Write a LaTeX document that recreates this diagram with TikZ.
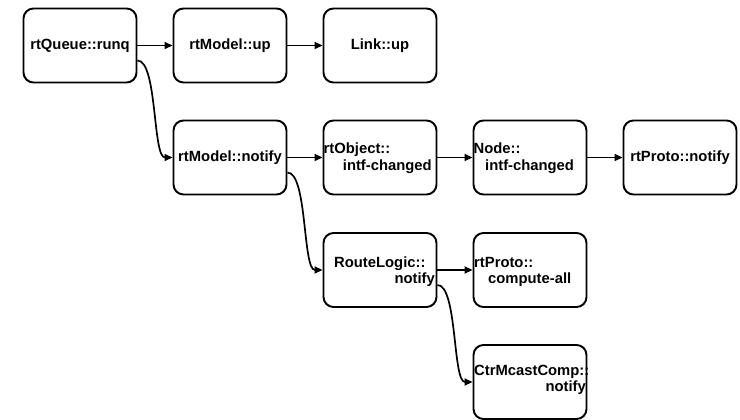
\documentclass[tikz,border=0pt]{standalone}
\usepackage{fontspec}
\setmainfont{Liberation Sans}
\usetikzlibrary{arrows.meta}
\begin{document}
\begin{tikzpicture}[x=1pt,y=-1pt,
  box/.style={draw, line width=1.9pt, rounded corners=10pt, minimum width=113pt, minimum height=74pt, inner sep=0pt},
  lbl/.style={inner sep=0pt, font=\fontsize{14.8}{17}\selectfont\bfseries},
  arr/.style={line width=1.7pt, -{Triangle[length=8pt,width=7pt]}}]
\useasboundingbox (0,0) rectangle (740,420);
% boxes
\node[box,lbl] (q)   at (80,45.5)   {rtQueue::runq};
\node[box,lbl] (up)  at (230,45.5)  {rtModel::up};
\node[box,lbl] (lk)  at (380,45.5)  {Link::up};
\node[box,lbl] (mn)  at (230,157.5) {rtModel::notify};
\node[box]     (ob)  at (380,157.5) {};
\node[box]     (nd)  at (530,157.5) {};
\node[box,lbl] (pn)  at (680,157.5) {rtProto::notify};
\node[box]     (rl)  at (380,270)   {};
\node[box]     (pc)  at (530,270)   {};
\node[box]     (cm)  at (530,382)   {};
% two-line texts
\node[lbl,anchor=base west] (ob1) at (323.5,153.3) {rtObject::};
\node[lbl,anchor=base west] (ob2) at (342.7,170.7) {intf-changed};
\node[lbl,anchor=base west] (nd1) at (473.5,153.3) {Node::};
\node[lbl,anchor=base west] (nd2) at (485,170.7) {intf-changed};
\node[lbl,anchor=base west] (rl1) at (334,267.3) {RouteLogic::};
\node[lbl,anchor=base east] (rl2) at (435,283.5) {notify};
\node[lbl,anchor=base west] (pc1) at (474,267.3) {rtProto::};
\node[lbl,anchor=base west] (pc2) at (488,283.5) {compute-all};
\node[lbl,anchor=base west] (cm1) at (474,375.5) {CtrMcastComp::};
\node[lbl,anchor=base east] (cm2) at (586,391.5) {notify};
% straight connectors
\draw[arr] (q) -- (up);
\draw[arr] (up) -- (lk);
\draw[arr] (mn) -- (ob);
\draw[arr] (ob) -- (nd);
\draw[arr] (nd) -- (pn);
\draw[arr] (rl) -- (pc);
% curved connectors
\draw[arr] ([yshift=-15pt]q.east) .. controls +(20,0) and +(-20,0) .. (mn.west);
\draw[arr] ([yshift=-15pt]mn.east) .. controls +(20,0) and +(-20,0) .. (rl.west);
\draw[arr] ([yshift=-15pt]rl.east) .. controls +(20,0) and +(-20,0) .. (cm.west);
\end{tikzpicture}
\end{document}
